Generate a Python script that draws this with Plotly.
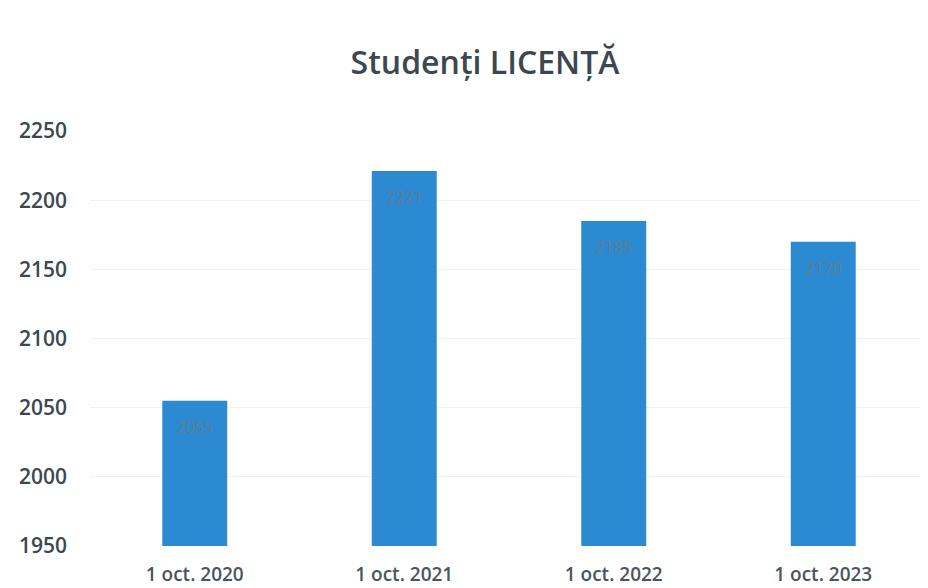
import plotly.graph_objects as go

categories = ["1 oct. 2020", "1 oct. 2021", "1 oct. 2022", "1 oct. 2023"]
students = [2055, 2221, 2185, 2170]
y_ticks = [1950, 2000, 2050, 2100, 2150, 2200, 2250]

fig = go.Figure(go.Bar(
    x=categories, y=students,
    marker=dict(color="#2B8AD2", line=dict(width=0)),
    width=0.31,
    hoverinfo="x+y",
))

for c, v in zip(categories, students):
    fig.add_annotation(x=c, y=v, text=str(v), showarrow=False, yanchor="middle",
                       yshift=-26, font=dict(family="Open Sans", size=16, color="#647c8e"))

fig.update_layout(
    width=928, height=588,
    margin=dict(l=82, r=8, t=123, b=50),
    paper_bgcolor="white", plot_bgcolor="white",
    title=dict(text="Studenți LICENȚĂ", x=0.514, xanchor="center", y=0.907, yanchor="middle",
               font=dict(family="Open Sans", size=32, color="#3b4850", weight=600)),
    showlegend=False,
)
fig.update_xaxes(showgrid=False, showline=False, ticks="", ticklabelstandoff=15,
                 tickfont=dict(family="Open Sans", size=19, color="#4a5560", weight=600))
fig.update_yaxes(range=[1950, 2250], tickvals=y_ticks, showgrid=True, gridcolor="#f1f1f1",
                 zeroline=False, showline=False, ticks="", ticklabelstandoff=22,
                 tickfont=dict(family="Open Sans", size=21, color="#3b4850", weight=600))

fig.write_html("out.html")
